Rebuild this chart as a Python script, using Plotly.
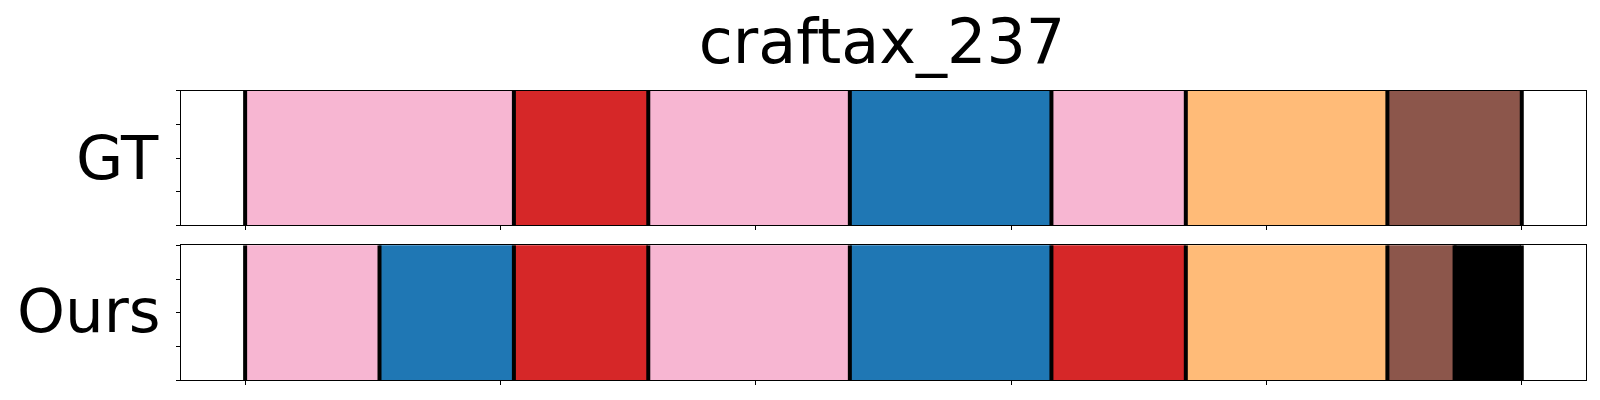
import plotly.graph_objects as go

# ---- data ----
title_text = "craftax_237"
row_labels = ["GT", "Ours"]
total_frames = 19

gt_starts = [0, 4, 6, 9, 12, 14, 17]
gt_ends = [4, 6, 9, 12, 14, 17, 19]
gt_colors = ["#f7b6d2", "#d62728", "#f7b6d2", "#1f77b4", "#f7b6d2", "#ffbb78", "#8c564b"]

ours_starts = [0, 2, 4, 6, 9, 12, 14, 17, 18]
ours_ends = [2, 4, 6, 9, 12, 14, 17, 18, 19]
ours_colors = ["#f7b6d2", "#1f77b4", "#d62728", "#f7b6d2", "#1f77b4", "#d62728", "#ffbb78", "#8c564b", "#000000"]

x_tickvals = [0, 0.2, 0.4, 0.6, 0.8, 1.0]
y_tickvals = [0, 0.25, 0.5, 0.75, 1.0]

W, H = 1600, 400
FONT = "DejaVu Sans"

fig = go.Figure()

rows = [
    (gt_starts, gt_ends, gt_colors, "x", "y"),
    (ours_starts, ours_ends, ours_colors, "x2", "y2"),
]

for starts, ends, colors, xa, ya in rows:
    for s, e, c in zip(starts, ends, colors):
        fig.add_trace(go.Bar(
            orientation="h",
            y=[0.5], x=[(e - s) / total_frames], base=[s / total_frames],
            width=1.0, marker=dict(color=c, line=dict(width=0)),
            xaxis=xa, yaxis=ya, showlegend=False, hoverinfo="skip",
        ))
    bounds = sorted(set(starts) | set(ends))
    lx, ly = [], []
    for b in bounds:
        lx += [b / total_frames, b / total_frames, None]
        ly += [0, 1, None]
    fig.add_trace(go.Scatter(
        x=lx, y=ly, mode="lines", line=dict(color="black", width=4),
        xaxis=xa, yaxis=ya, showlegend=False, hoverinfo="skip",
    ))

xdom = [181.3 / W, 1585.6 / W]
ydom_top = [1 - 225.3 / H, 1 - 90.7 / H]
ydom_bot = [1 - 380.3 / H, 1 - 245.3 / H]

xcommon = dict(range=[-0.05, 1.05], tickvals=x_tickvals, ticks="outside", ticklen=4,
               tickwidth=1, tickcolor="black", showticklabels=False, showline=True,
               linecolor="black", linewidth=1.2, mirror=True, showgrid=False, zeroline=False,
               domain=xdom, fixedrange=True)
ycommon = dict(range=[0, 1], tickvals=y_tickvals, ticks="outside", ticklen=4,
               tickwidth=1, tickcolor="black", showticklabels=False, showline=True,
               linecolor="black", linewidth=1.2, mirror=True, showgrid=False, zeroline=False,
               fixedrange=True)

fig.update_layout(
    width=W, height=H,
    margin=dict(l=0, r=0, t=0, b=0),
    paper_bgcolor="white", plot_bgcolor="white",
    barmode="overlay", bargap=0,
    font=dict(family=FONT, color="black"),
    xaxis=dict(anchor="y", **xcommon),
    yaxis=dict(anchor="x", domain=ydom_top, **ycommon),
    xaxis2=dict(anchor="y2", **xcommon),
    yaxis2=dict(anchor="x2", domain=ydom_bot, **ycommon),
    title=dict(text=title_text, x=882 / W, xanchor="center", xref="paper",
               y=1 - 41 / H, yanchor="middle", yref="container",
               font=dict(family=FONT, size=62, color="black")),
    annotations=[
        dict(text=row_labels[0], x=161 / W, xanchor="right", xref="paper",
             y=(ydom_top[0] + ydom_top[1]) / 2 + 1.0 / H, yanchor="middle", yref="paper",
             showarrow=False, font=dict(family=FONT, size=61, color="black")),
        dict(text=row_labels[1], x=163 / W, xanchor="right", xref="paper",
             y=(ydom_bot[0] + ydom_bot[1]) / 2 + 2.5 / H, yanchor="middle", yref="paper",
             showarrow=False, font=dict(family=FONT, size=61, color="black")),
    ],
)

fig.write_html("out.html", config={"displayModeBar": False},
               post_script="document.body.style.margin='0px';document.body.style.overflow='hidden';")
